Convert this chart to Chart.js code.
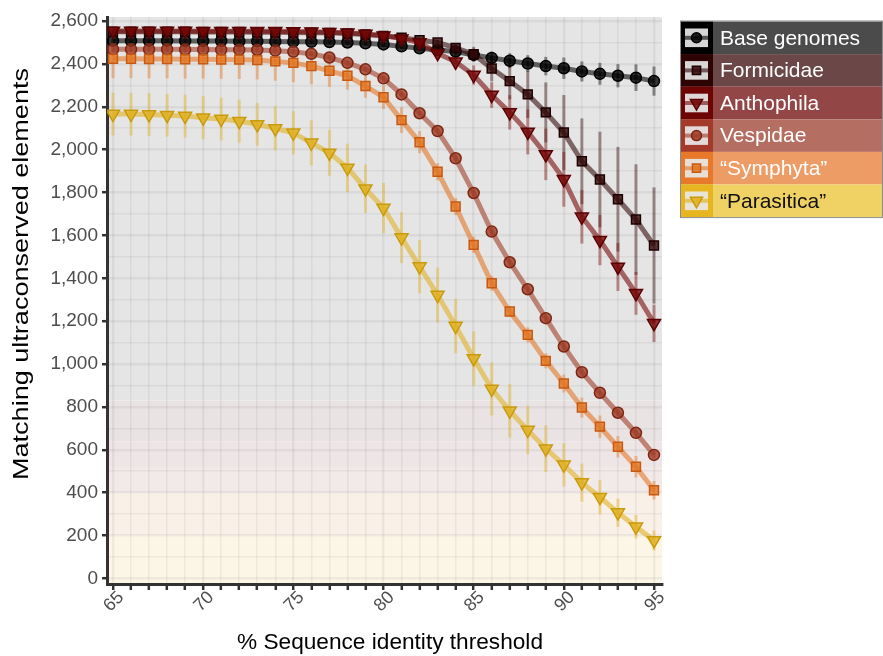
<!DOCTYPE html>
<html>
<head>
<meta charset="utf-8">
<script src="https://cdn.jsdelivr.net/npm/chart.js@4/dist/chart.umd.min.js"></script>
<style>
  html, body { margin: 0; padding: 0; background: #fff; }
</style>
</head>
<body>
<canvas id="chart" width="883" height="656"></canvas>
<script>
// x values (% identity threshold)
const thresholds = [65, 66, 67, 68, 69, 70, 71, 72, 73, 74, 75, 76, 77, 78, 79, 80,
  81, 82, 83, 84, 85, 86, 87, 88, 89, 90, 91, 92, 93, 94, 95];

const seriesLabels = ['Base genomes', 'Formicidae', 'Anthophila', 'Vespidae', '\u201cSymphyta\u201d', '\u201cParasitica\u201d'];

const baseGenomes = [2508, 2508, 2508, 2508, 2507, 2507, 2507, 2506, 2506, 2505, 2504, 2503, 2502, 2500, 2496,
  2491, 2482, 2473, 2465, 2458, 2442, 2428, 2415, 2402, 2390, 2380, 2365, 2354, 2345, 2336, 2320];
const baseGenomesErr = [10, 10, 10, 10, 10, 10, 10, 10, 10, 10, 10, 10, 10, 10, 10,
  12, 14, 15, 16, 18, 25, 30, 35, 39, 43, 50, 47, 51, 54, 62, 68];

const formicidae = [2550, 2550, 2550, 2550, 2550, 2549, 2549, 2549, 2548, 2548, 2547, 2546, 2545, 2542, 2537,
  2531, 2522, 2511, 2500, 2475, 2445, 2379, 2320, 2258, 2174, 2080, 1946, 1861, 1769, 1674, 1553];
const formicidaeErr = [8, 8, 8, 8, 8, 8, 8, 8, 8, 8, 8, 8, 8, 8, 8,
  8, 8, 10, 12, 20, 35, 60, 85, 110, 140, 175, 200, 223, 244, 258, 271];

const anthophila = [2554, 2554, 2554, 2554, 2554, 2553, 2553, 2553, 2552, 2552, 2551, 2550, 2548, 2545, 2540,
  2532, 2518, 2500, 2450, 2410, 2348, 2255, 2174, 2083, 1978, 1862, 1687, 1578, 1453, 1330, 1190];
const anthophilaErr = [8, 8, 8, 8, 8, 8, 8, 8, 8, 8, 8, 8, 8, 8, 8,
  8, 8, 15, 25, 35, 45, 60, 80, 105, 120, 128, 125, 117, 112, 100, 87];

const vespidae = [2468, 2468, 2468, 2468, 2467, 2467, 2466, 2466, 2465, 2462, 2457, 2447, 2430, 2405, 2375,
  2333, 2258, 2170, 2087, 1960, 1798, 1618, 1475, 1349, 1214, 1082, 962, 866, 773, 679, 576];
const vespidaeErr = [12, 12, 12, 12, 12, 12, 12, 12, 12, 12, 12, 12, 12, 12, 12,
  12, 12, 12, 14, 14, 15, 15, 15, 15, 15, 15, 15, 15, 15, 15, 15];

const symphyta = [2424, 2424, 2423, 2423, 2422, 2422, 2421, 2420, 2418, 2412, 2405, 2390, 2368, 2345, 2297,
  2245, 2138, 2035, 1897, 1735, 1556, 1377, 1245, 1136, 1015, 909, 797, 708, 614, 521, 411];
const symphytaErr = [90, 90, 90, 90, 90, 90, 90, 90, 90, 90, 90, 85, 75, 65, 55,
  55, 60, 52, 40, 40, 38, 35, 25, 35, 35, 42, 47, 52, 50, 50, 43];

const parasitica = [2166, 2166, 2164, 2161, 2157, 2149, 2143, 2133, 2118, 2099, 2079, 2032, 1985, 1915, 1818,
  1728, 1590, 1455, 1322, 1177, 1026, 884, 782, 692, 605, 530, 447, 379, 307, 241, 177];
const parasiticaErr = [100, 100, 100, 100, 100, 100, 100, 100, 100, 103, 101, 105, 108, 113, 113,
  117, 119, 124, 128, 127, 127, 124, 125, 113, 109, 101, 89, 80, 66, 55, 47];

const yTicks = [0, 100, 200, 300, 400, 500, 600, 700, 800, 900, 1000, 1100, 1200, 1300,
  1400, 1500, 1600, 1700, 1800, 1900, 2000, 2100, 2200, 2300, 2400, 2500, 2600];

const seriesValues = [baseGenomes, formicidae, anthophila, vespidae, symphyta, parasitica];
const seriesErrors = [baseGenomesErr, formicidaeErr, anthophilaErr, vespidaeErr, symphytaErr, parasiticaErr];

// look of each series
const styles = [
  { rgb: '0,0,0',       edge: '#000000', point: 'circle',   r: 5.5, rot: 0,   bg: '#4b4b4b', icon: '#000000', text: '#ffffff' },
  { rgb: '50,8,8',      edge: '#1e0000', point: 'rect',     r: 6.3, rot: 0,   bg: '#6c4747', icon: '#2d0303', text: '#ffffff' },
  { rgb: '118,6,6',     edge: '#5a0000', point: 'triangle', r: 7.5, rot: 180, bg: '#934646', icon: '#6e0505', text: '#ffffff' },
  { rgb: '158,58,36',   edge: '#7e2612', point: 'circle',   r: 5.5, rot: 0,   bg: '#b46e62', icon: '#a33a2a', text: '#ffffff' },
  { rgb: '227,116,32',  edge: '#c75a10', point: 'rect',     r: 6.3, rot: 0,   bg: '#ee9c66', icon: '#e8782a', text: '#ffffff' },
  { rgb: '224,176,30',  edge: '#c99a0c', point: 'triangle', r: 7.5, rot: 180, bg: '#f0d264', icon: '#e6b520', text: '#111111' }
];

// panel background bands (value ranges)
const bgBands = [
  [-100, 200, '#fcf6e7'],
  [200, 400, '#f9f0e8'],
  [400, 520, '#f2e9e9'],
  [520, 640, '#eee6e6'],
  [640, 830, '#e9e3e3'],
  [830, 3000, '#e5e5e5']
];

Chart.defaults.font.family = '"Liberation Sans", Arial, sans-serif';

const datasets = seriesValues.map((vals, k) => {
  const st = styles[k];
  return {
    label: seriesLabels[k],
    data: thresholds.map((x, i) => ({ x, y: vals[i] })),
    borderColor: `rgba(${st.rgb},0.58)`,
    borderWidth: 5,
    pointStyle: st.point,
    pointRadius: st.r,
    pointRotation: st.rot,
    pointBackgroundColor: `rgba(${st.rgb},0.78)`,
    pointBorderColor: st.edge,
    pointBorderWidth: 1.5,
    tension: 0,
    order: 5 - k
  };
});

const panelBg = {
  id: 'panelBg',
  beforeDraw(chart) {
    const { ctx, chartArea: a, scales: { y } } = chart;
    ctx.save();
    ctx.beginPath();
    ctx.rect(a.left, a.top, a.width, a.height);
    ctx.clip();
    for (const [lo, hi, col] of bgBands) {
      const y1 = y.getPixelForValue(hi), y2 = y.getPixelForValue(lo);
      ctx.fillStyle = col;
      ctx.fillRect(a.left, y1, a.width, y2 - y1);
    }
    ctx.restore();
  }
};

const errorBars = {
  id: 'errorBars',
  beforeDatasetsDraw(chart) {
    const { ctx, chartArea: a, scales: { x, y } } = chart;
    ctx.save();
    ctx.beginPath();
    ctx.rect(a.left, a.top, a.width, a.height);
    ctx.clip();
    ctx.lineWidth = 3;
    seriesValues.forEach((vals, k) => {
      ctx.strokeStyle = `rgba(${styles[k].rgb},0.42)`;
      vals.forEach((v, i) => {
        const px = x.getPixelForValue(thresholds[i]);
        ctx.beginPath();
        ctx.moveTo(px, y.getPixelForValue(v - seriesErrors[k][i]));
        ctx.lineTo(px, y.getPixelForValue(v + seriesErrors[k][i]));
        ctx.stroke();
      });
    });
    ctx.restore();
  }
};

// axis titles and the coloured legend on the right
const extras = {
  id: 'extras',
  afterDraw(chart) {
    const { ctx } = chart;
    ctx.save();
    ctx.fillStyle = '#000';
    ctx.textAlign = 'center';
    ctx.textBaseline = 'middle';
    ctx.font = '22px "Liberation Sans", Arial, sans-serif';

    let t = '% Sequence identity threshold';
    let sx = 306 / ctx.measureText(t).width;
    ctx.save();
    ctx.translate(390, 643);
    ctx.scale(sx, 1);
    ctx.fillText(t, 0, 0);
    ctx.restore();

    t = 'Matching ultraconserved elements';
    sx = 412 / ctx.measureText(t).width;
    ctx.save();
    ctx.translate(22, 274);
    ctx.rotate(-Math.PI / 2);
    ctx.scale(sx, 1);
    ctx.fillText(t, 0, 0);
    ctx.restore();

    // legend
    const lx = 680, ly = 21.5, lw = 203, rh = 32.6;
    styles.forEach((st, k) => {
      const ry = ly + k * rh;
      ctx.fillStyle = st.bg;
      ctx.fillRect(lx, ry, lw, rh);
      ctx.fillStyle = st.icon;
      ctx.fillRect(lx, ry, 33, rh);
      ctx.fillStyle = 'rgba(232,232,232,0.92)';
      ctx.fillRect(lx + 5, ry + 7, 23, rh - 14);
      const cy = ry + rh / 2;
      ctx.strokeStyle = `rgba(${st.rgb},0.6)`;
      ctx.lineWidth = 4;
      ctx.beginPath();
      ctx.moveTo(lx + 5, cy);
      ctx.lineTo(lx + 28, cy);
      ctx.stroke();
      ctx.fillStyle = `rgba(${st.rgb},0.85)`;
      ctx.strokeStyle = st.edge;
      ctx.lineWidth = 1.5;
      Chart.helpers.drawPoint(ctx, { pointStyle: st.point, rotation: st.rot, radius: st.r - 0.5, borderWidth: 1.5 }, lx + 16.5, cy);
      ctx.fillStyle = st.text;
      ctx.textAlign = 'left';
      ctx.font = '21px "Liberation Sans", Arial, sans-serif';
      ctx.fillText(seriesLabels[k], lx + 40, cy + 1);
    });
    ctx.strokeStyle = '#8c8c8c';
    ctx.lineWidth = 1;
    ctx.strokeRect(lx + 0.5, ly - 0.5, lw - 1, rh * 6 + 1);
    ctx.restore();
  }
};

new Chart(document.getElementById('chart'), {
  type: 'line',
  data: { datasets },
  options: {
    responsive: false,
    animation: false,
    layout: { padding: { top: 17, right: 221, bottom: 0, left: 0 } },
    plugins: { legend: { display: false }, tooltip: { enabled: false } },
    scales: {
      x: {
        type: 'linear',
        min: 64.667,
        max: 95.444,
        afterBuildTicks: s => { s.ticks = thresholds.map(v => ({ value: v })); },
        afterFit: s => { s.height = 72; s.paddingLeft = 0; s.paddingRight = 0; },
        ticks: {
          autoSkip: false,
          maxRotation: 45,
          minRotation: 45,
          labelOffset: 8,
          padding: -3,
          color: '#4d4d4d',
          font: { size: 18 },
          callback: v => (v % 5 === 0 ? String(v) : '')
        },
        grid: {
          color: 'rgba(0,0,0,0.052)',
          lineWidth: c => (c.tick && c.tick.value % 5 === 0 ? 2.4 : 1.6),
          tickColor: '#333333',
          tickLength: 6,
          tickWidth: 2.5
        },
        border: { color: '#333333', width: 3 }
      },
      y: {
        type: 'linear',
        min: -26,
        max: 2619,
        afterBuildTicks: s => { s.ticks = yTicks.map(v => ({ value: v })); },
        afterFit: s => { s.width = 107; s.paddingTop = 0; s.paddingBottom = 0; },
        ticks: {
          autoSkip: false,
          padding: 4,
          color: '#4d4d4d',
          font: { size: 19 },
          callback: v => (v % 200 === 0 ? v.toLocaleString('en-US') : '')
        },
        grid: {
          color: 'rgba(0,0,0,0.052)',
          lineWidth: c => (c.tick && c.tick.value % 200 === 0 ? 2.4 : 1.6),
          tickColor: c => (c.tick && c.tick.value % 200 === 0 ? '#333333' : 'rgba(0,0,0,0)'),
          tickLength: 5,
          tickWidth: 2.5
        },
        border: { color: '#333333', width: 3 }
      }
    }
  },
  plugins: [panelBg, errorBars, extras]
});
</script>
</body>
</html>
